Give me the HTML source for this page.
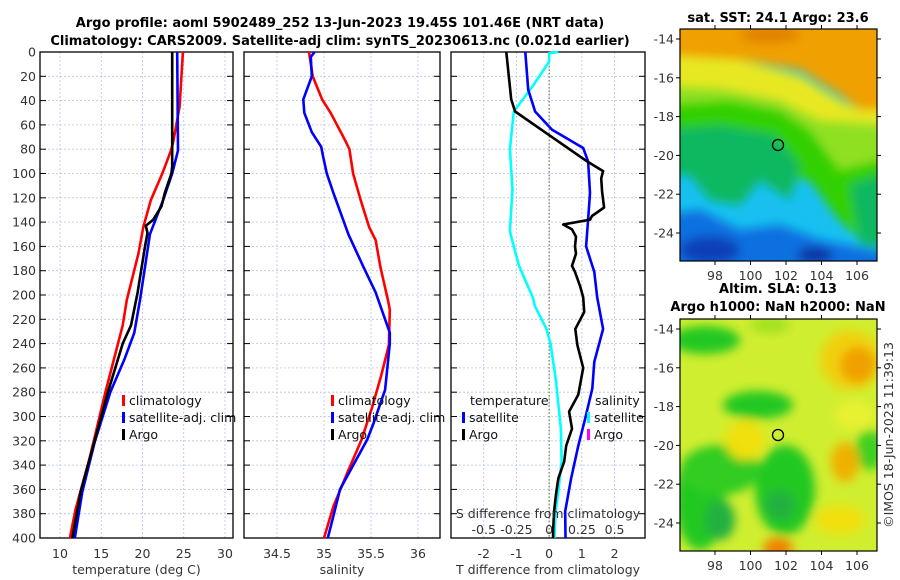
<!DOCTYPE html>
<html><head><meta charset="utf-8"><style>
body{margin:0;background:#fff;}
svg{display:block;font-family:"DejaVu Sans","Liberation Sans",sans-serif;}
.tk{font-size:12.5px;fill:#333;}
.ttl{font-size:13px;font-weight:bold;fill:#000;}
.lg{font-size:12.5px;fill:#111;}
</style></head><body>
<svg id="chart" width="900" height="580" viewBox="0 0 900 580">
<defs>
<filter id="bl" x="-20%" y="-20%" width="140%" height="140%"><feGaussianBlur stdDeviation="5"/></filter>
<clipPath id="c1"><rect x="680" y="29" width="197" height="232"/></clipPath>
<clipPath id="c2"><rect x="680" y="319" width="197" height="232"/></clipPath>
</defs>
<text class="ttl" x="340" y="27" text-anchor="middle">Argo profile: aoml 5902489_252 13-Jun-2023 19.45S 101.46E (NRT data)</text>
<text class="ttl" x="340" y="45" text-anchor="middle">Climatology: CARS2009. Satellite-adj clim: synTS_20230613.nc (0.021d earlier)</text>
<g id="panels"></g>

<g>
<text class="ttl" x="778" y="22" text-anchor="middle">sat. SST: 24.1 Argo: 23.6</text>
<g clip-path="url(#c1)">
<rect x="680" y="29" width="197" height="232" fill="#18c0f0"/>
<g filter="url(#bl)">
<polygon points="660,20 900,20 900,110 860,110 840,95 800,70 740,60 660,60" fill="#f0a000"/>
<polygon points="660,55 740,60 800,75 840,100 860,110 900,110 900,135 660,135" fill="#e8e820"/>
<polygon points="660,85 720,88 780,100 820,120 900,125 900,210 860,215 830,190 800,145 660,135" fill="#90e020"/>
<polygon points="660,105 730,100 780,110 810,130 840,170 860,165 900,155 900,230 860,240 835,215 810,180 760,175 740,195 720,175 660,175" fill="#30d000"/>
<polygon points="660,130 720,125 775,135 800,165 790,200 760,180 740,205 710,200 690,175 660,175" fill="#10b860"/>
<polygon points="850,185 880,175 900,190 900,250 860,245" fill="#10b860"/>
<polygon points="660,215 700,210 740,230 780,225 820,240 900,255 900,280 660,280" fill="#1070e0"/>
<ellipse cx="710" cy="250" rx="30" ry="14" fill="#0840b8"/>
<ellipse cx="815" cy="255" rx="18" ry="8" fill="#0830a0"/>
<ellipse cx="770" cy="35" rx="30" ry="8" fill="#e08000"/>
</g>
</g>
<rect x="680" y="29" width="197" height="232" fill="none" stroke="#000" stroke-width="1.2"/>
<circle cx="778" cy="145" r="5.5" fill="none" stroke="#000" stroke-width="1.3"/>
<g id="m1ticks"></g>
</g>

<g>
<text class="ttl" x="778" y="293" text-anchor="middle">Altim. SLA: 0.13</text>
<text class="ttl" x="778" y="311" text-anchor="middle">Argo h1000: NaN h2000: NaN</text>
<g clip-path="url(#c2)">
<rect x="680" y="319" width="197" height="232" fill="#d0ee30"/>
<g filter="url(#bl)">
<ellipse cx="705" cy="340" rx="35" ry="14" fill="#20c820"/>
<ellipse cx="770" cy="325" rx="20" ry="8" fill="#a0e020"/>
<ellipse cx="758" cy="405" rx="35" ry="14" fill="#20c820"/>
<ellipse cx="700" cy="500" rx="25" ry="50" fill="#20c820"/>
<ellipse cx="720" cy="470" rx="40" ry="25" fill="#30cc20"/>
<ellipse cx="785" cy="490" rx="30" ry="45" fill="#20c820"/>
<ellipse cx="720" cy="520" rx="15" ry="20" fill="#20b040"/>
<ellipse cx="780" cy="505" rx="15" ry="15" fill="#20b040"/>
<ellipse cx="870" cy="450" rx="15" ry="20" fill="#40d020"/>
<ellipse cx="745" cy="440" rx="20" ry="20" fill="#f0e010"/>
<ellipse cx="855" cy="415" rx="20" ry="15" fill="#e8f030"/>
<ellipse cx="850" cy="360" rx="30" ry="30" fill="#f0d010"/>
<ellipse cx="858" cy="365" rx="18" ry="18" fill="#f0a000"/>
<ellipse cx="845" cy="462" rx="14" ry="20" fill="#f0b000"/>
<ellipse cx="778" cy="548" rx="15" ry="10" fill="#f08000"/>
<ellipse cx="840" cy="520" rx="25" ry="15" fill="#f0e010"/>
</g>
</g>
<rect x="680" y="319" width="197" height="232" fill="none" stroke="#000" stroke-width="1.2"/>
<circle cx="778" cy="435" r="5.5" fill="none" stroke="#000" stroke-width="1.3"/>
<g id="m2ticks"></g>
<text x="893" y="435" class="tk" text-anchor="middle" transform="rotate(-90 893 435)">©IMOS 18-Jun-2023 11:39:13</text>
</g>
</svg>
<script>
const tDepth=[0,45,75,82,100,122,144,166,204,225,280,334,376,400];
const tClim=[24.9,24.5,23.7,23.4,22.4,21.0,20.1,19.5,18.1,17.6,15.5,13.6,11.9,11.2];
const tSatDepth=[0,81,100,122,150,177,204,231,253,280,321,362,400];
const tSat=[24.2,24.3,23.6,22.5,20.9,20.3,19.7,19.0,17.8,16.1,14.2,12.7,11.8];
const tArgoDepth=[0,94,100,116,127,138,143,149,160,177,198,225,240,280,330,362,400];
const tArgo=[23.6,23.6,23.5,22.7,22.3,21.3,20.4,20.6,20.3,19.9,19.4,18.6,17.6,15.8,13.8,12.5,11.5];
const sClimDepth=[0,20,39,50,72,80,100,122,144,155,177,204,212,241,266,293,319,346,374,400];
const sClim=[34.84,34.88,34.98,35.07,35.22,35.27,35.31,35.39,35.48,35.55,35.6,35.68,35.7,35.69,35.61,35.51,35.4,35.25,35.1,35.0];
const sSatDepth=[0,4,20,39,50,66,78,86,100,116,150,177,198,231,240,278,305,319,360,382,400];
const sSat=[34.9,34.86,34.87,34.78,34.79,34.87,34.97,34.99,35.03,35.1,35.26,35.42,35.55,35.7,35.7,35.65,35.53,35.46,35.17,35.1,35.04];
const dtArgoDepth=[0,39,49,90,98,104,115,128,135,138,142,146,152,160,166,171,176,181,193,202,214,228,241,260,282,296,310,324,337,351,364,378,394,400];
const dtArgo=[-1.31,-1.16,-1.04,1.16,1.65,1.59,1.62,1.68,1.31,1.25,0.43,0.70,0.82,0.79,0.82,0.76,0.70,0.79,0.95,1.04,1.07,0.80,0.86,1.04,0.89,0.61,0.70,0.52,0.46,0.28,0.21,0.15,0.12,0.12];
const dtSatDepth=[0,31,49,64,79,90,116,138,160,181,202,228,255,277,302,324,351,378,400];
const dtSat=[-0.73,-0.64,-0.43,0.09,1.04,1.19,1.25,1.19,1.13,1.38,1.47,1.65,1.38,1.32,1.10,0.89,0.67,0.49,0.5];
const dsSatDepth=[0,1,8,28,49,80,113,147,152,176,202,209,228,240,269,310,337,362,378,400];
const dsSat=[0.07,0,0,-0.125,-0.27,-0.30,-0.28,-0.30,-0.29,-0.23,-0.125,-0.11,-0.02,0.01,0.05,0.09,0.095,0.07,0.05,0.04];
const depthTicks=[0,20,40,60,80,100,120,140,160,180,200,220,240,260,280,300,320,340,360,380,400];
const tTicks=[10,15,20,25,30];
const sTicks=[34.5,35,35.5,36];
const dtTicks=[-2,-1,0,1,2];
const dsTicks=[-0.5,-0.25,0,0.25,0.5];
const dsLabels=["-0.5","-0.25","0","0.25","0.5"];
const latTicks=[-14,-16,-18,-20,-22,-24];
const lonTicks=[98,100,102,104,106];

const NS='http://www.w3.org/2000/svg';
const G=document.getElementById('panels');
function mk(tag,at,parent){const e=document.createElementNS(NS,tag);for(const k in at)e.setAttribute(k,at[k]);(parent||G).appendChild(e);return e;}
const Y0=52,Y1=538;
const yD=d=>Y0+(d/400)*(Y1-Y0);
const panels=[
 {x0:40,x1:233,v0:10-20/8.25,v1:10+173/8.25,ticks:tTicks,label:'temperature (deg C)',name:'temperature-panel'},
 {x0:244,x1:440,v0:34.5-33/94,v1:34.5+163/94,ticks:sTicks,label:'salinity',name:'salinity-panel'},
 {x0:451,x1:645,v0:-3.0,v1:2.93,ticks:dtTicks,label:'T difference from climatology',name:'difference-panel'}
];
panels.forEach(p=>{p.sx=v=>p.x0+(v-p.v0)/(p.v1-p.v0)*(p.x1-p.x0);});
panels.forEach((p,i)=>{
 const g=mk('g',{});
 
 
 depthTicks.forEach(d=>{
  const y=yD(d);
  const l=mk('line',{x1:p.x0,x2:p.x1,y1:y,y2:y,stroke:'#b8c0e8','stroke-width':0.8,'stroke-dasharray':'2,2'},g);
  
  
  mk('line',{x1:p.x0,x2:p.x0+6,y1:y,y2:y,stroke:'#000'},g);
  mk('line',{x1:p.x1-6,x2:p.x1,y1:y,y2:y,stroke:'#000'},g);
  if(i===0){const t=mk('text',{x:p.x0-4,y:y+4.5,'text-anchor':'end',class:'tk'},g);t.textContent=d;
   
   }
 });
 p.ticks.forEach(v=>{
  const x=p.sx(v);
  const l=mk('line',{x1:x,x2:x,y1:Y0,y2:Y1,stroke:'#b8c0e8','stroke-width':0.8,'stroke-dasharray':'2,2'},g);
  
  
  const t=mk('text',{x:x,y:558,'text-anchor':'middle',class:'tk'},g);t.textContent=v;
  
  
 });
 mk('rect',{x:p.x0,y:Y0,width:p.x1-p.x0,height:Y1-Y0,fill:'none',stroke:'#000','stroke-width':1.3},g);
 const xl=mk('text',{x:(p.x0+p.x1)/2,y:574,'text-anchor':'middle',class:'tk'},g);xl.textContent=p.label;
 
 
});
const P3=panels[2];
const zl=mk('line',{x1:P3.sx(0),x2:P3.sx(0),y1:Y0,y2:Y1,stroke:'#556b2f','stroke-width':1,'stroke-dasharray':'1.5,2'});


function line(p,depths,vals,color,name,scale){
 const pts=vals.map((v,k)=>p.sx(v*(scale||1)).toFixed(1)+','+yD(depths[k]).toFixed(1)).join(' ');
 const e=mk('polyline',{points:pts,fill:'none',stroke:color,'stroke-width':2.6,'stroke-linejoin':'round'});
 
 
}
line(panels[0],tDepth,tClim,'#f00','temp-climatology-line');
line(panels[0],tSatDepth,tSat,'#00f','temp-satellite-line');
line(panels[0],tArgoDepth,tArgo,'#000','temp-argo-line');
line(panels[1],sClimDepth,sClim,'#f00','sal-climatology-line');
line(panels[1],sSatDepth,sSat,'#00f','sal-satellite-line');
line(P3,dsSatDepth,dsSat,'#0ff','sal-diff-satellite-line',4);
line(P3,dtSatDepth,dtSat,'#00f','temp-diff-satellite-line');
line(P3,dtArgoDepth,dtArgo,'#000','temp-diff-argo-line');
const st=mk('text',{x:548,y:518,'text-anchor':'middle',class:'tk'});st.textContent='S difference from climatology';


dsTicks.forEach((v,k)=>{const t=mk('text',{x:P3.sx(v*4),y:534,'text-anchor':'middle',class:'tk'});t.textContent=dsLabels[k];
 
 });
function leg(x,y,color,txt,name){
 const g=mk('g',{});
 
 
 mk('rect',{x:x,y:y-10,width:3,height:11,fill:color},g);
 const t=mk('text',{x:x+7,y:y,class:'lg'},g);t.textContent=txt;
}
leg(122,405,'#f00','climatology','legend-climatology');
leg(122,422,'#00f','satellite-adj. clim','legend-satellite-adj');
leg(122,439,'#000','Argo','legend-argo');
leg(331,405,'#f00','climatology','legend-sal-climatology');
leg(331,422,'#00f','satellite-adj. clim','legend-sal-satellite-adj');
leg(331,439,'#000','Argo','legend-sal-argo');
const lt=mk('text',{x:470,y:405,class:'lg'});lt.textContent='temperature';


leg(462,422,'#00f','satellite','legend-temp-satellite');
leg(462,439,'#000','Argo','legend-temp-argo');
const ls=mk('text',{x:595,y:405,class:'lg'});ls.textContent='salinity';


leg(587,422,'#0ff','satellite','legend-sal-satellite');
leg(587,439,'#f0f','Argo','legend-sal-argo');
function mapTicks(id,yTop){
 const g=document.getElementById(id);
 const x0=680,x1=877,y0=yTop,y1=yTop+232;
 latTicks.forEach(v=>{const y=yTop+10+(-14-v)*19.4;
  mk('line',{x1:x0-4,x2:x0,y1:y,y2:y,stroke:'#000'},g);mk('line',{x1:x1,x2:x1+4,y1:y,y2:y,stroke:'#000'},g);
  const t=mk('text',{x:x0-6,y:y+4.5,'text-anchor':'end',class:'tk'},g);t.textContent=v;
  
  });
 lonTicks.forEach(v=>{const x=715+(v-98)*17.75;
  mk('line',{x1:x,x2:x,y1:y1,y2:y1+4,stroke:'#000'},g);mk('line',{x1:x,x2:x,y1:y0-4,y2:y0,stroke:'#000'},g);
  const t=mk('text',{x:x,y:y1+19,'text-anchor':'middle',class:'tk'},g);t.textContent=v;
  
  });
}
mapTicks('m1ticks',29);mapTicks('m2ticks',319);
</script>
</body></html>
